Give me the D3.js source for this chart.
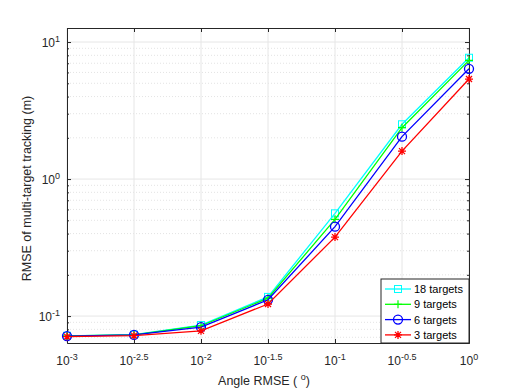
<!DOCTYPE html>
<html>
<head>
<meta charset="utf-8">
<script src="https://cdn.jsdelivr.net/npm/d3@7"></script>
<style>
  body { margin: 0; background: #fff; }
  svg { font-family: "Liberation Sans", Arial, sans-serif; }
</style>
</head>
<body>
<div id="chart"></div>
<script>
// log10 of angle RMSE
let xExponents = [-3, -2.5, -2, -1.5, -1, -0.5, 0];
let xTickLabels = ["-3", "-2.5", "-2", "-1.5", "-1", "-0.5", "0"];
let yTickExponents = [-1, 0, 1];

let seriesNames = ["18 targets", "9 targets", "6 targets", "3 targets"];
let seriesColors = ["#00ffff", "#00ff00", "#0000ff", "#ff0000"];
let seriesMarkers = ["square", "plus", "circle", "star"];

let targets18 = [0.0718, 0.0732, 0.086, 0.138, 0.562, 2.51, 7.68];
let targets9 = [0.0716, 0.0730, 0.085, 0.135, 0.508, 2.37, 7.35];
let targets6 = [0.0714, 0.0728, 0.083, 0.1315, 0.449, 2.04, 6.38];
let targets3 = [0.0708, 0.0720, 0.078, 0.1225, 0.377, 1.60, 5.37];
let allSeries = [targets18, targets9, targets6, targets3];

let margin = { top: 28, right: 49, bottom: 45, left: 67 },
    width = 518 - margin.left - margin.right,
    height = 388 - margin.top - margin.bottom;

let svg = d3.select("#chart")
    .append("svg")
    .attr("width", 518)
    .attr("height", 388);

let g = svg.append("g")
    .attr("transform", "translate(" + margin.left + "," + margin.top + ")");

let x = d3.scaleLinear().domain([-3, 0]).range([0, width]);
let y = d3.scaleLog().domain([0.0636, 12.66]).range([height, 0]);

// minor y values
let minorY = [];
for (let e = -2; e <= 1; e++) {
    for (let m = 2; m <= 9; m++) {
        let v = m * Math.pow(10, e);
        if (v > y.domain()[0] && v < y.domain()[1]) minorY.push(v);
    }
}
let majorY = yTickExponents.map(e => Math.pow(10, e));

// Grid
g.selectAll(".minor-grid")
    .data(minorY)
    .enter()
    .append("line")
    .attr("x1", 0).attr("x2", width)
    .attr("y1", d => y(d)).attr("y2", d => y(d))
    .attr("stroke", "#d0d0d0")
    .attr("stroke-width", 0.6)
    .attr("stroke-dasharray", "1,2");

g.selectAll(".major-grid-y")
    .data(majorY)
    .enter()
    .append("line")
    .attr("x1", 0).attr("x2", width)
    .attr("y1", d => y(d)).attr("y2", d => y(d))
    .attr("stroke", "#e6e6e6")
    .attr("stroke-width", 1);

g.selectAll(".major-grid-x")
    .data(xExponents)
    .enter()
    .append("line")
    .attr("x1", d => x(d)).attr("x2", d => x(d))
    .attr("y1", 0).attr("y2", height)
    .attr("stroke", "#e6e6e6")
    .attr("stroke-width", 1);

// Axes (ticks pointing inward, box all around)
let tickColor = "#262626";
let axisBottom = g.append("g")
    .attr("transform", "translate(0," + height + ")")
    .call(d3.axisBottom(x).tickValues(xExponents).tickSizeInner(-4).tickSizeOuter(0).tickFormat(""));
let axisTop = g.append("g")
    .call(d3.axisTop(x).tickValues(xExponents).tickSizeInner(-4).tickSizeOuter(0).tickFormat(""));
let axisLeft = g.append("g")
    .call(d3.axisLeft(y).tickValues(majorY).tickSizeInner(-4).tickSizeOuter(0).tickFormat(""));
let axisRight = g.append("g")
    .attr("transform", "translate(" + width + ",0)")
    .call(d3.axisRight(y).tickValues(majorY).tickSizeInner(-4).tickSizeOuter(0).tickFormat(""));
let minorLeft = g.append("g")
    .call(d3.axisLeft(y).tickValues(minorY).tickSizeInner(-2).tickSizeOuter(0).tickFormat(""));
let minorRight = g.append("g")
    .attr("transform", "translate(" + width + ",0)")
    .call(d3.axisRight(y).tickValues(minorY).tickSizeInner(-2).tickSizeOuter(0).tickFormat(""));
[axisBottom, axisTop, axisLeft, axisRight, minorLeft, minorRight].forEach(a => {
    a.selectAll("path").attr("stroke", tickColor);
    a.selectAll("line").attr("stroke", tickColor);
});

// X tick labels (10 with superscript)
let xLabels = g.selectAll(".xlab")
    .data(xExponents)
    .enter()
    .append("text")
    .attr("x", d => x(d))
    .attr("y", height + 22)
    .attr("text-anchor", "middle")
    .attr("font-size", "12px")
    .attr("fill", "#262626");
xLabels.append("tspan").text("10");
xLabels.append("tspan")
    .attr("dy", "-5")
    .attr("font-size", "9px")
    .text((d, i) => xTickLabels[i]);

// Y tick labels
let yLabels = g.selectAll(".ylab")
    .data(yTickExponents)
    .enter()
    .append("text")
    .attr("x", -7)
    .attr("y", d => y(Math.pow(10, d)) + 5)
    .attr("text-anchor", "end")
    .attr("font-size", "12px")
    .attr("fill", "#262626");
yLabels.append("tspan").text("10");
yLabels.append("tspan")
    .attr("dy", "-5")
    .attr("font-size", "9px")
    .text(d => d);

// Axis titles
let xTitle = svg.append("text")
    .attr("x", margin.left + width / 2 - 4)
    .attr("y", 385)
    .attr("text-anchor", "middle")
    .attr("font-size", "12.5px")
    .attr("fill", "#262626");
xTitle.append("tspan").text("Angle RMSE ( ");
xTitle.append("tspan").attr("dy", "-5").attr("font-size", "9px").text("o");
xTitle.append("tspan").attr("dy", "5").text(")");

svg.append("text")
    .attr("transform", "translate(31," + (margin.top + height / 2 + 3) + ") rotate(-90)")
    .attr("text-anchor", "middle")
    .attr("font-size", "12.5px")
    .attr("fill", "#262626")
    .text("RMSE of multi-target tracking (m)");

// Marker drawing
function drawMarker(sel, type, color) {
    if (type === "square") {
        sel.append("rect").attr("x", -3.5).attr("y", -3.5).attr("width", 7).attr("height", 7)
            .attr("fill", "none").attr("stroke", color).attr("stroke-width", 1);
    } else if (type === "plus") {
        sel.append("path").attr("d", "M-4,0H4M0,-4V4").attr("stroke", color).attr("stroke-width", 1.2);
    } else if (type === "circle") {
        sel.append("circle").attr("r", 4.5).attr("fill", "none").attr("stroke", color).attr("stroke-width", 1.3);
    } else if (type === "star") {
        sel.append("path").attr("d", "M-4,0H4M0,-4V4M-3,-3L3,3M-3,3L3,-3").attr("stroke", color).attr("stroke-width", 1.3);
    }
}

let line = d3.line().x((d, i) => x(xExponents[i])).y(d => y(d));

allSeries.forEach((s, k) => {
    g.append("path")
        .datum(s)
        .attr("d", line)
        .attr("fill", "none")
        .attr("stroke", seriesColors[k])
        .attr("stroke-width", 1.3);
    s.forEach((v, i) => {
        let m = g.append("g").attr("transform", "translate(" + x(xExponents[i]) + "," + y(v) + ")");
        drawMarker(m, seriesMarkers[k], seriesColors[k]);
    });
});

// Legend
let legend = g.append("g").attr("transform", "translate(" + (width - 88) + "," + (height - 64) + ")");
legend.append("rect")
    .attr("width", 88).attr("height", 64)
    .attr("fill", "#fff")
    .attr("stroke", "#262626")
    .attr("stroke-width", 1);
seriesNames.forEach((name, k) => {
    let row = legend.append("g").attr("transform", "translate(0," + (10 + k * 15.3) + ")");
    row.append("line").attr("x1", 4).attr("x2", 30).attr("y1", 0).attr("y2", 0)
        .attr("stroke", seriesColors[k]).attr("stroke-width", 1.3);
    let m = row.append("g").attr("transform", "translate(17,0)");
    drawMarker(m, seriesMarkers[k], seriesColors[k]);
    row.append("text").attr("x", 33).attr("y", 4)
        .attr("font-size", "11px").attr("fill", "#000").text(name);
});
</script>
</body>
</html>
